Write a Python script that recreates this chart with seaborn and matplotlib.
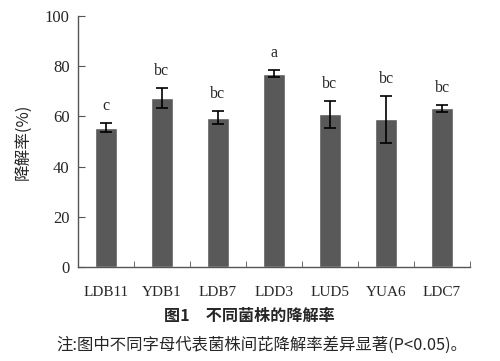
import matplotlib
matplotlib.use("Agg")
import matplotlib.pyplot as plt
import seaborn as sns
import pandas as pd
import numpy as np

# data
strains = ["LDB11", "YDB1", "LDB7", "LDD3", "LUD5", "YUA6", "LDC7"]
rates = [55.5, 67.5, 59.5, 77.0, 60.8, 58.8, 63.2]
errors = [1.8, 4.0, 2.6, 1.4, 5.3, 9.3, 1.5]
letters = ["c", "bc", "bc", "a", "bc", "bc", "bc"]

df = pd.DataFrame({"strain": strains, "rate": rates})

sns.set_style("ticks")
serif = ["Liberation Serif", "DejaVu Serif"]
cjk = ["Noto Sans CJK SC", "DejaVu Sans"]

fig = plt.figure(figsize=(5, 3.61), dpi=100)
ax = fig.add_axes([0.156, 0.2604, 0.784, 0.6953])

sns.barplot(data=df, x="strain", y="rate", color="#595959", saturation=1,
            width=0.39, errorbar=None, ax=ax)
ax.errorbar(np.arange(len(strains)), rates, yerr=errors, fmt="none",
            ecolor="black", elinewidth=1.2, capsize=4, capthick=1.2)

for i, (v, e, lab) in enumerate(zip(rates, errors, letters)):
    ax.text(i, v + e + 3.5, lab, ha="center", va="bottom",
            fontsize=11.5, family=serif)

ax.set_xlim(-0.5, 6.5)
ax.set_ylim(0, 100)
ax.set_yticks([0, 20, 40, 60, 80, 100])
ax.set_xticks(np.arange(len(strains)))
ax.set_xticklabels(strains, family=serif, fontsize=11)
ax.tick_params(axis="x", length=0, pad=14)
ax.set_xticks(np.arange(0.5, 7, 1), minor=True)
ax.tick_params(axis="x", which="minor", direction="in", length=4, color="#555555")
ax.tick_params(axis="y", direction="in", length=5, color="#555555", pad=6)
for t in ax.get_yticklabels():
    t.set_family(serif)
    t.set_fontsize(12)

ax.set_xlabel("")
ax.set_ylabel("降解率(%)", family=cjk, fontsize=12, labelpad=9)
for s in ["top", "right"]:
    ax.spines[s].set_visible(False)
for s in ["left", "bottom"]:
    ax.spines[s].set_color("#555555")
    ax.spines[s].set_linewidth(1.0)

fig.text(0.498, 0.125, "图1　不同菌株的降解率", ha="center", va="center",
         family=cjk, fontsize=11.6, fontweight="bold")
fig.text(0.523, 0.045, "注:图中不同字母代表菌株间芘降解率差异显著(P<0.05)。",
         ha="center", va="center", family=cjk, fontsize=11.8)

fig.savefig("out.png", dpi=100)
